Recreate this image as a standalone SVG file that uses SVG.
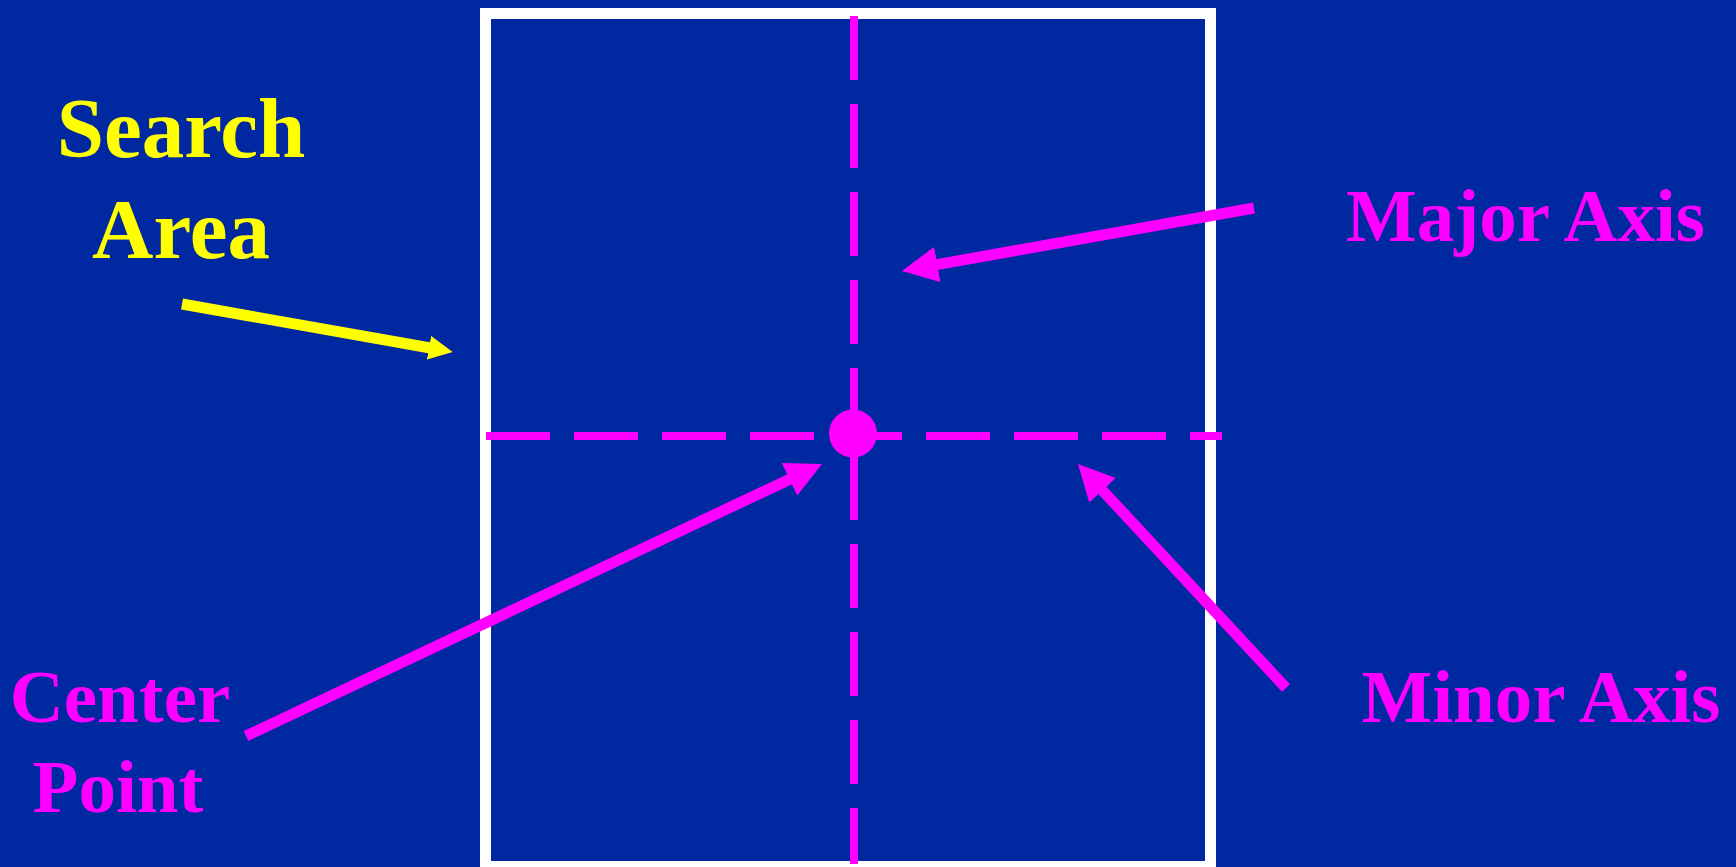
<svg xmlns="http://www.w3.org/2000/svg" width="1736" height="867" viewBox="0 0 1736 867">
<style>
.lbl{font-family:"Liberation Serif","Times New Roman",serif;font-weight:bold;text-anchor:middle}
.mag{fill:#ff00ff}
.yel{fill:#ffff00}
.axis{stroke:#ff00ff;stroke-width:8;stroke-dasharray:64 24;fill:none}
.arrM{stroke:#ff00ff;stroke-width:11;fill:none;marker-end:url(#headM)}
.arrY{stroke:#ffff00;stroke-width:11;fill:none;marker-end:url(#headY)}
</style>
<defs>
<marker id="headM" viewBox="0 0 36 36" refX="2" refY="18" markerWidth="36" markerHeight="36" markerUnits="userSpaceOnUse" orient="auto">
<path d="M0,0 L36,18 L0,36 z" fill="#ff00ff"/>
</marker>
<marker id="headY" viewBox="0 0 24 24" refX="1.5" refY="12" markerWidth="24" markerHeight="24" markerUnits="userSpaceOnUse" orient="auto">
<path d="M0,0 L24,12 L0,24 z" fill="#ffff00"/>
</marker>
</defs>
<rect width="1736" height="867" fill="#0028a0"/>
<g id="search-area-box">
<rect x="485.5" y="13.5" width="725" height="853" fill="none" stroke="#ffffff" stroke-width="11"/>
</g>
<g id="major-axis-line">
<path class="axis" d="M854,16 L854,864"/>
</g>
<g id="minor-axis-line">
<path class="axis" d="M486,436 L1222,436"/>
</g>
<g id="center-point">
<circle cx="853" cy="433.5" r="24" fill="#ff00ff"/>
</g>
<g id="connectors">
<path class="arrY" d="M182,304 L430.5,348"/>
<path class="arrM" d="M1254,208 L935.4,264.9"/>
<path class="arrM" d="M246,736 L791.3,478.5"/>
<path class="arrM" d="M1286,688 L1101.1,488.9"/>
</g>
<g id="label-search-area">
<text class="lbl yel" font-size="85"><tspan x="181" y="157">Search</tspan><tspan x="181" y="258">Area</tspan></text>
</g>
<g id="label-major-axis">
<text class="lbl mag" font-size="75" x="1525.5" y="241">Major Axis</text>
</g>
<g id="label-center-point">
<text class="lbl mag" font-size="75"><tspan x="120" y="722">Center</tspan><tspan x="118" y="812">Point</tspan></text>
</g>
<g id="label-minor-axis">
<text class="lbl mag" font-size="75" x="1541" y="722">Minor Axis</text>
</g>
</svg>
